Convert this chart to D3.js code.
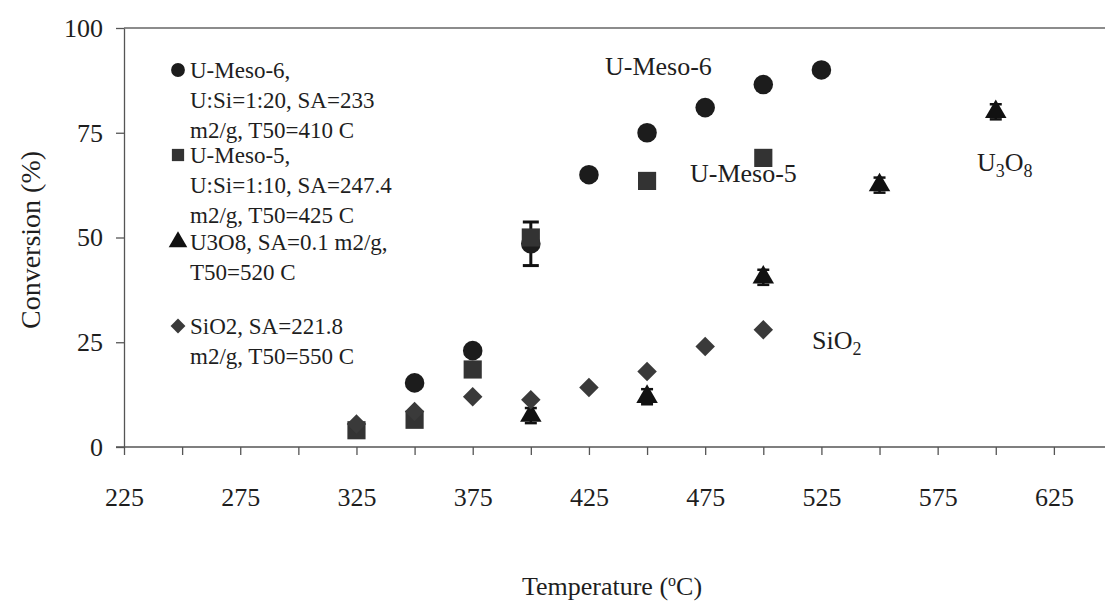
<!DOCTYPE html>
<html lang="en">
  <head>
    <meta charset="utf-8" />
    <title>Conversion vs temperature</title>
    <script type="text/javascript" src="https://cdn.jsdelivr.net/npm/d3@7"></script>
    <style type="text/css">
      body {
        margin: 0;
        background: #ffffff;
      }
      svg text {
        font-family: "Liberation Serif", "Times New Roman", serif;
        fill: #1e1e1e;
      }
      .axis path,
      .axis line {
        stroke: #555;
        stroke-width: 1.3px;
      }
    </style>
  </head>
  <body>
    <script type="text/javascript">
      var w = 1105;
      var h = 603;

      // values
      var meso6Temp = [350, 375, 400, 425, 450, 475, 500, 525];
      var meso6Conv = [15.3, 23, 48.5, 65, 75, 81, 86.5, 90];
      var meso6Err = [0, 0, 5.2, 0, 0, 0, 0, 0];

      var meso5Temp = [325, 350, 375, 400, 450, 500];
      var meso5Conv = [4, 6.5, 18.5, 50, 63.5, 69];

      var u3o8Temp = [400, 450, 500, 550, 600];
      var u3o8Conv = [7.5, 12, 40.5, 62.5, 80];
      var u3o8Err = [1.8, 1.8, 1.8, 1.8, 1.8];

      var sio2Temp = [325, 350, 375, 400, 425, 450, 475, 500];
      var sio2Conv = [5.5, 8.5, 12, 11.3, 14.2, 18, 24, 28];

      var xTicks = d3.range(225, 651, 25);
      var xLabels = [225, 275, 325, 375, 425, 475, 525, 575, 625];
      var yTicks = [0, 25, 50, 75, 100];

      var legendLines = [
        ["U-Meso-6,", "U:Si=1:20, SA=233", "m2/g, T50=410 C"],
        ["U-Meso-5,", "U:Si=1:10, SA=247.4", "m2/g, T50=425 C"],
        ["U3O8, SA=0.1 m2/g,", "T50=520 C"],
        ["SiO2, SA=221.8", "m2/g, T50=550 C"]
      ];
      var legendTop = [70, 155, 242, 326];
      var colors = ["#1c1c1c", "#333333", "#111111", "#3a3a3a"];

      // diamond = square turned by 45 degrees
      var diamond = {
        draw: function (context, size) {
          var r = Math.sqrt(size / 2);
          context.moveTo(0, -r);
          context.lineTo(r, 0);
          context.lineTo(0, r);
          context.lineTo(-r, 0);
          context.closePath();
        }
      };
      var legendShapes = [d3.symbolCircle, d3.symbolSquare, d3.symbolTriangle, diamond];

      var xScale = d3.scaleLinear().domain([225, 650]).range([124, 1112]);
      var yScale = d3.scaleLinear().domain([0, 100]).range([447, 28]);

      var svg = d3
        .select("body")
        .append("svg")
        .attr("width", w)
        .attr("height", h);

      // top border line
      svg
        .append("line")
        .attr("x1", xScale(225))
        .attr("x2", w)
        .attr("y1", yScale(100))
        .attr("y2", yScale(100))
        .attr("stroke", "#666")
        .attr("stroke-width", 1.3);

      //axes
      var xAxis = d3
        .axisBottom(xScale)
        .tickValues(xTicks)
        .tickSize(8)
        .tickSizeOuter(0)
        .tickFormat(function (d) {
          return xLabels.indexOf(d) >= 0 ? d : "";
        });

      var gx = svg
        .append("g")
        .attr("class", "axis")
        .attr("transform", "translate(0," + yScale(0) + ")")
        .call(xAxis);
      gx.select(".domain").attr("d", "M" + (xScale(225) - 8) + ",0H" + w);
      gx.selectAll("text")
        .attr("y", 50)
        .attr("dy", "0.35em")
        .style("font-size", "26px")
        .attr("fill", "#1e1e1e");

      var yAxis = d3
        .axisLeft(yScale)
        .tickValues(yTicks)
        .tickSize(8)
        .tickSizeOuter(0)
        .tickPadding(13);

      var gy = svg
        .append("g")
        .attr("class", "axis")
        .attr("transform", "translate(" + xScale(225) + ",0)")
        .call(yAxis);
      gy.selectAll("text")
        .style("font-size", "26px")
        .attr("fill", "#1e1e1e");

      // axis titles
      svg
        .append("text")
        .attr("transform", "translate(30,240) rotate(-90)")
        .attr("text-anchor", "middle")
        .attr("dy", "0.35em")
        .style("font-size", "28px")
        .text("Conversion (%)");

      var xt = svg
        .append("text")
        .attr("x", 612)
        .attr("y", 586)
        .attr("text-anchor", "middle")
        .attr("dy", "0.35em")
        .style("font-size", "26px");
      xt.append("tspan").text("Temperature (");
      xt.append("tspan").attr("dy", "-9").style("font-size", "16px").text("o");
      xt.append("tspan").attr("dy", "9").text("C)");

      // error bars
      function errorBars(temps, vals, errs, cap, sw) {
        var g = svg.append("g");
        temps.forEach(function (t, i) {
          if (!errs[i]) return;
          var x = xScale(t);
          g.append("line")
            .attr("x1", x).attr("x2", x)
            .attr("y1", yScale(vals[i] - errs[i]))
            .attr("y2", yScale(vals[i] + errs[i]))
            .attr("stroke", "#111").attr("stroke-width", sw);
          [vals[i] - errs[i], vals[i] + errs[i]].forEach(function (v) {
            g.append("line")
              .attr("x1", x - cap).attr("x2", x + cap)
              .attr("y1", yScale(v)).attr("y2", yScale(v))
              .attr("stroke", "#111").attr("stroke-width", sw);
          });
        });
      }

      //draw the markers
      function series(temps, vals, shape, size, color) {
        svg
          .append("g")
          .selectAll("path")
          .data(temps)
          .enter()
          .append("path")
          .attr("transform", function (d, i) {
            return "translate(" + xScale(d) + "," + yScale(vals[i]) + ")";
          })
          .attr("d", d3.symbol().type(shape).size(size))
          .attr("fill", color);
      }

      errorBars(meso6Temp, meso6Conv, meso6Err, 8, 3);
      series(meso6Temp, meso6Conv, d3.symbolCircle, 300, colors[0]);
      series(meso5Temp, meso5Conv, d3.symbolSquare, 330, colors[1]);
      errorBars(u3o8Temp, u3o8Conv, u3o8Err, 6, 2.5);
      series(u3o8Temp, u3o8Conv, d3.symbolTriangle, 200, colors[2]);
      series(sio2Temp, sio2Conv, diamond, 190, colors[3]);

      // legend
      var lg = svg.append("g");
      legendLines.forEach(function (lines, k) {
        lg.append("path")
          .attr("transform", "translate(178," + legendTop[k] + ")")
          .attr("d", d3.symbol().type(legendShapes[k]).size(k == 3 ? 110 : 150))
          .attr("fill", colors[k]);
        lines.forEach(function (s, j) {
          lg.append("text")
            .attr("x", 190)
            .attr("y", legendTop[k] + j * 30)
            .attr("dy", "0.35em")
            .style("font-size", "23px")
            .text(s);
        });
      });

      // in-plot labels
      function label(x, y, parts) {
        var t = svg
          .append("text")
          .attr("x", x)
          .attr("y", y)
          .attr("dy", "0.35em")
          .style("font-size", "26px");
        parts.forEach(function (p) {
          var sp = t.append("tspan").text(p[0]);
          if (p[1]) sp.attr("dy", "6").style("font-size", "18px");
          else if (p[2]) sp.attr("dy", "-6");
        });
      }
      label(605, 66, [["U-Meso-6"]]);
      label(690, 173, [["U-Meso-5"]]);
      label(977, 162, [["U"], ["3", true], ["O", false, true], ["8", true]]);
      label(812, 340, [["SiO"], ["2", true]]);
    </script>
  </body>
</html>
